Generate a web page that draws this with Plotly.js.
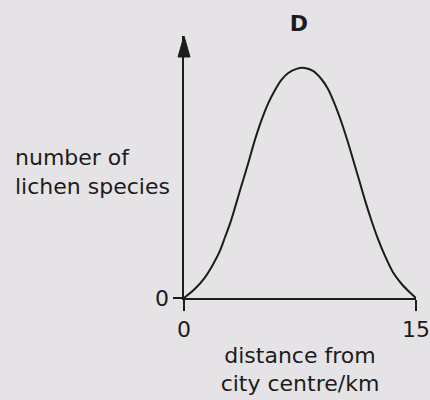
<!DOCTYPE html>
<html>
<head>
<meta charset="utf-8">
<script src="https://cdn.plot.ly/plotly-3.0.1.min.js"></script>
<style>
  html, body { margin: 0; padding: 0; background: #e6e3e6; }
  #chart { width: 430px; height: 400px; }
</style>
</head>
<body>
<div id="chart"></div>
<script>
// Lichen species richness against distance from the city centre (graph D)
const distanceKm = [0, 0.71, 1.36, 1.90, 2.33, 2.65, 2.97, 3.30, 3.62, 4.14, 4.57, 5.00, 5.43, 5.86,
                    6.30, 6.72, 7.27, 7.80, 8.34, 8.88, 9.31, 9.74, 10.18, 10.60, 11.04, 11.36,
                    11.68, 12.12, 12.54, 12.98, 13.51, 14.06, 14.59, 15];
const lichenSpecies = [0, 0.40, 0.90, 1.49, 2.06, 2.64, 3.22, 3.94, 4.67, 5.83, 6.84, 7.71, 8.44, 9.01,
                       9.48, 9.77, 9.96, 10.0, 9.87, 9.52, 9.09, 8.44, 7.64, 6.77, 5.77, 5.04,
                       4.30, 3.37, 2.57, 1.85, 1.12, 0.62, 0.25, 0];
const xTickVals = [0, 15];
const xTickText = ['0', '15'];
const yTickVals = [0];
const yTickText = ['0'];

const yTop = 11.39;
const ink = '#1c1c1c';
const font = { family: 'DejaVu Sans, Arial, sans-serif', size: 22, color: ink };

const trace = {
  x: distanceKm,
  y: lichenSpecies,
  type: 'scatter',
  mode: 'lines',
  line: { color: ink, width: 2, shape: 'spline', smoothing: 0.8 },
  hoverinfo: 'skip',
  cliponaxis: false
};

const layout = {
  width: 430,
  height: 400,
  margin: { l: 184, r: 14, t: 36, b: 102 },
  paper_bgcolor: '#e6e3e6',
  plot_bgcolor: 'rgba(0,0,0,0)',
  showlegend: false,
  font: font,
  title: {
    text: '<b>D</b>',
    font: { family: 'DejaVu Sans, Arial, sans-serif', size: 22, color: ink },
    x: 0.695, xanchor: 'center',
    y: 0.942, yanchor: 'middle'
  },
  xaxis: {
    range: [0, 15],
    showgrid: false, zeroline: false,
    showline: true, linecolor: ink, linewidth: 1.6,
    ticks: 'outside', ticklen: 11, tickwidth: 1.6, tickcolor: ink,
    tickvals: xTickVals, ticktext: xTickText,
    tickfont: font,
    title: { text: 'distance from<br>city centre/km', font: font, standoff: 6 }
  },
  yaxis: {
    range: [0, yTop],
    showgrid: false, zeroline: false,
    showline: true, linecolor: ink, linewidth: 1.6,
    ticks: 'outside', ticklen: 9, tickwidth: 1.6, tickcolor: ink,
    tickvals: yTickVals, ticktext: yTickText,
    tickfont: font
  },
  shapes: [{
    // arrowhead capping the vertical axis (anchored at the top-left corner of the plot area)
    type: 'path',
    xref: 'paper', yref: 'paper',
    xsizemode: 'pixel', ysizemode: 'pixel',
    xanchor: 0, yanchor: 1,
    path: 'M -6 -21 L 6 -21 L 0 0 Z',
    fillcolor: ink,
    line: { color: ink, width: 1 }
  }],
  annotations: [{
    text: 'number of<br>lichen species',
    xref: 'paper', yref: 'paper',
    x: -0.737, y: 0.48,
    xanchor: 'left', yanchor: 'middle',
    align: 'left',
    showarrow: false,
    font: font
  }]
};

Plotly.newPlot('chart', [trace], layout, { staticPlot: true, displayModeBar: false });
</script>
</body>
</html>
